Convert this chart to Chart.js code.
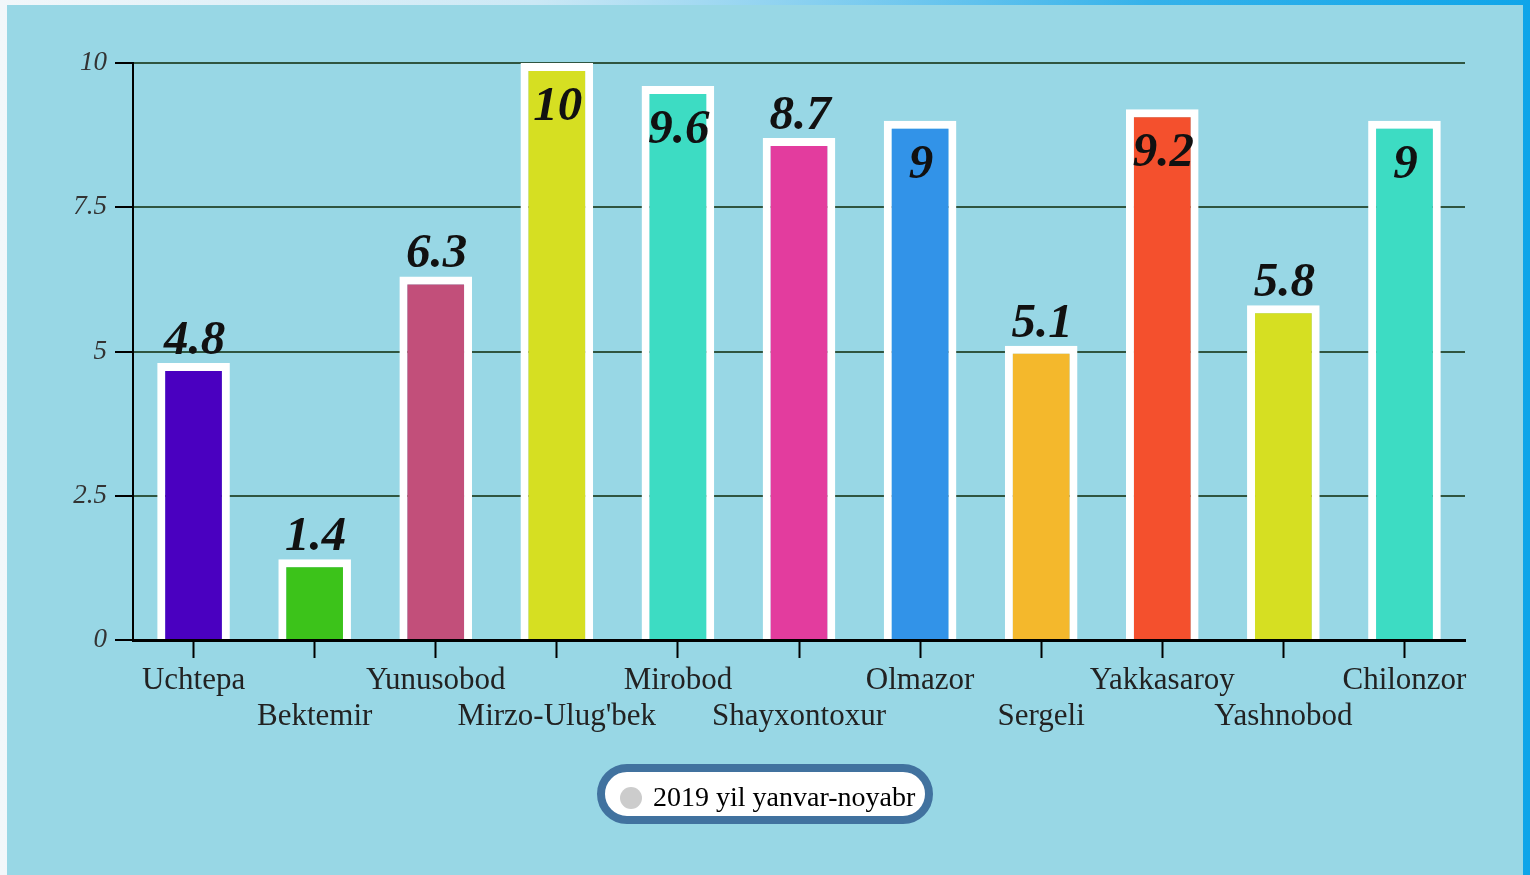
<!DOCTYPE html>
<html>
<head>
<meta charset="utf-8">
<script src="https://cdn.jsdelivr.net/npm/chart.js@4"></script>
<style>
  html, body { margin: 0; padding: 0; }
  body {
    width: 1530px; height: 875px; overflow: hidden;
    background: linear-gradient(to right, #f2f7fa 0%, #cbe8f5 35%, #35b2ea 75%, #0ea5e9 100%);
    position: relative;
  }
  #panel {
    position: absolute; left: 7px; top: 5px; width: 1516px; height: 870px;
    background: #98d7e5;
  }
  #chartWrap { position: absolute; left: 0; top: 0; width: 1530px; height: 875px; }
</style>
</head>
<body>
<div id="panel"></div>
<div id="chartWrap"><canvas id="chart"></canvas></div>
<script>
// Data
const districts = ['Uchtepa', 'Bektemir', 'Yunusobod', "Mirzo-Ulug'bek", 'Mirobod', 'Shayxontoxur',
  'Olmazor', 'Sergeli', 'Yakkasaroy', 'Yashnobod', 'Chilonzor'];
const values = [4.8, 1.4, 6.3, 10, 9.6, 8.7, 9, 5.1, 9.2, 5.8, 9];
const barColors = ['#4a00c0', '#3cc31a', '#c24f7a', '#d6df22', '#3ddcc3', '#e33c9e',
  '#3293e8', '#f4b82c', '#f4502d', '#d6df22', '#3ddcc3'];
const seriesName = '2019 yil yanvar-noyabr';
const yTicks = [0, 2.5, 5, 7.5, 10];

// alternate rows for the category labels
const xLabels = districts.map((d, i) => i % 2 ? ['', d] : d);

const serif = '"Liberation Serif", "Times New Roman", serif';

// value labels above the bar, or inside when the bar is tall
const valueLabels = {
  id: 'valueLabels',
  afterDatasetsDraw(chart) {
    const ctx = chart.ctx;
    const meta = chart.getDatasetMeta(0);
    ctx.save();
    ctx.font = 'italic bold 49px ' + serif;
    ctx.fillStyle = '#111';
    ctx.textAlign = 'center';
    ctx.textBaseline = 'alphabetic';
    meta.data.forEach((bar, i) => {
      const v = values[i];
      const y = v >= 9 ? bar.y + 57 : bar.y - 9;
      ctx.fillText(String(v), bar.x + 1, y);
    });
    ctx.restore();
  }
};

// pill shaped legend
const pillLegend = {
  id: 'pillLegend',
  afterDraw(chart) {
    const ctx = chart.ctx;
    const cx = (chart.chartArea.left + chart.chartArea.right) / 2 - 34;
    const cy = 794;
    const w = 328, h = 52, r = h / 2;
    const x = cx - w / 2, y = cy - h / 2;
    ctx.save();
    ctx.beginPath();
    ctx.moveTo(x + r, y);
    ctx.lineTo(x + w - r, y);
    ctx.arc(x + w - r, cy, r, -Math.PI / 2, Math.PI / 2);
    ctx.lineTo(x + r, y + h);
    ctx.arc(x + r, cy, r, Math.PI / 2, Math.PI * 1.5);
    ctx.closePath();
    ctx.fillStyle = '#fff';
    ctx.fill();
    ctx.lineWidth = 8;
    ctx.strokeStyle = '#41729f';
    ctx.stroke();

    ctx.beginPath();
    ctx.arc(x + 30, cy + 4, 11, 0, Math.PI * 2);
    ctx.fillStyle = '#cccccc';
    ctx.fill();

    ctx.font = '28px ' + serif;
    ctx.fillStyle = '#000';
    ctx.textAlign = 'left';
    ctx.textBaseline = 'middle';
    ctx.fillText(chart.data.datasets[0].label, x + 52, cy + 5);
    ctx.restore();
  }
};

const ctx = document.getElementById('chart').getContext('2d');

new Chart(ctx, {
  type: 'bar',
  data: {
    labels: xLabels,
    datasets: [{
      label: seriesName,
      data: values,
      backgroundColor: barColors,
      borderColor: '#ffffff',
      borderWidth: 8,
      borderSkipped: 'start',
      barPercentage: 0.6,
      categoryPercentage: 1
    }]
  },
  plugins: [valueLabels, pillLegend],
  options: {
    responsive: true,
    maintainAspectRatio: false,
    animation: false,
    layout: { padding: { left: 0, right: 65, top: 63, bottom: 0 } },
    plugins: {
      legend: { display: false },
      tooltip: { enabled: false }
    },
    scales: {
      x: {
        afterFit: s => { s.height = 235; },
        grid: {
          offset: false,
          drawOnChartArea: false,
          drawTicks: true,
          tickLength: 18,
          tickColor: '#000',
          tickWidth: 2
        },
        border: { color: '#000', width: 3 },
        ticks: {
          color: '#222',
          padding: 5,
          maxRotation: 0,
          autoSkip: false,
          font: { family: serif, size: 31, lineHeight: '36px' }
        }
      },
      y: {
        min: 0,
        max: 10,
        afterFit: s => { s.width = 133; },
        afterBuildTicks: s => { s.ticks = yTicks.map(v => ({ value: v })); },
        grid: {
          color: '#2f5540',
          lineWidth: 2,
          tickLength: 18,
          tickColor: '#000',
          tickWidth: 2
        },
        border: { color: '#000', width: 2 },
        ticks: {
          color: '#333',
          padding: 8,
          font: { family: serif, size: 27, style: 'italic' }
        }
      }
    }
  }
});
</script>
</body>
</html>
